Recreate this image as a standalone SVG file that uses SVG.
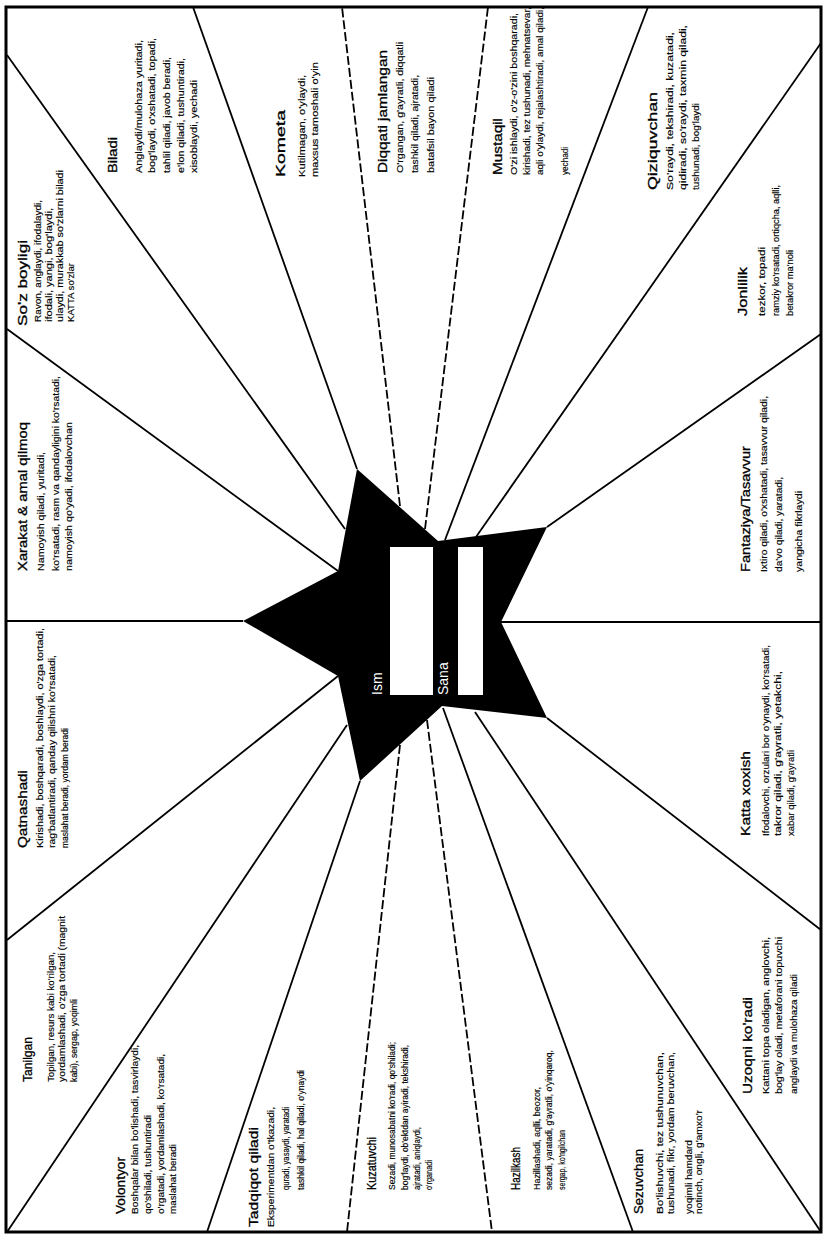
<svg xmlns="http://www.w3.org/2000/svg" width="824" height="1236" viewBox="0 0 824 1236">
<style>
text{font-family:"Liberation Sans",Arial,sans-serif;fill:#000}
.t{font-size:13.5px;stroke:#000;stroke-width:0.3}
.d{font-size:8.5px;stroke:#000;stroke-width:0.15}
.w{font-size:14px;fill:#fff}
.ln{stroke:#000;stroke-width:1.8;fill:none}
.ds{stroke:#000;stroke-width:1.8;fill:none;stroke-dasharray:9 3}
</style>
<rect x="0" y="0" width="824" height="1236" fill="#fff"/>
<rect x="6" y="7" width="815" height="1225" fill="none" stroke="#000" stroke-width="3"/>
<g id="connectors">
<path class="ln" d="M357,469 L193,7"/>
<path class="ds" d="M400,506 L342,7"/>
<path class="ds" d="M425,529 L488,7"/>
<path class="ln" d="M445,540 L648,7"/>
<path class="ln" d="M476,537 L821,43"/>
<path class="ln" d="M547,527 L821,334"/>
<path class="ln" d="M501,622 L821,622"/>
<path class="ln" d="M547,718 L821,930"/>
<path class="ln" d="M475,712 L821,1232"/>
<path class="ln" d="M443,708 L633,1232"/>
<path class="ds" d="M427,720 L492,1232"/>
<path class="ds" d="M400,745 L347,1232"/>
<path class="ln" d="M360,781 L207,1232"/>
<path class="ln" d="M347,725 L7,1232"/>
<path class="ln" d="M338,676 L7,940"/>
<path class="ln" d="M243,621 L7,621"/>
<path class="ln" d="M338,571 L7,329"/>
<path class="ln" d="M345,529 L7,55"/>
</g>
<g id="star">
<polygon points="357,469 438,541 547,527 501,622 547,718 442,706 360,781 338,676 243,621 338,571" fill="#000"/>
<rect x="390" y="547" width="43" height="148" fill="#fff"/>
<rect x="458" y="547" width="25" height="148" fill="#fff"/>
<text class="w" transform="translate(382,695) rotate(-90)">Ism</text>
<text class="w" transform="translate(448,695) rotate(-90)">Sana</text>
</g>
<g id="biladi" transform="translate(117,173) rotate(-90)">
<text class="t" textLength="36" lengthAdjust="spacingAndGlyphs">Biladi</text>
<text class="d" y="25" textLength="133" lengthAdjust="spacingAndGlyphs">Anglaydi/mulohaza yuritadi,</text>
<text class="d" y="38" textLength="135" lengthAdjust="spacingAndGlyphs">bog'laydi, o'xshatadi, topadi,</text>
<text class="d" y="53" textLength="116" lengthAdjust="spacingAndGlyphs">tahlil qiladi, javob beradi,</text>
<text class="d" y="67" textLength="115" lengthAdjust="spacingAndGlyphs">e'lon qiladi, tushuntiradi,</text>
<text class="d" y="80" textLength="93" lengthAdjust="spacingAndGlyphs">xisoblaydi, yechadi</text>
</g>
<g id="sozboyligi" transform="translate(27,326) rotate(-90)">
<text class="t" textLength="86" lengthAdjust="spacingAndGlyphs">So'z boyligi</text>
<text class="d" x="4" y="14" textLength="122" lengthAdjust="spacingAndGlyphs">Ravon, anglaydi, ifodalaydi,</text>
<text class="d" x="4" y="25" textLength="114" lengthAdjust="spacingAndGlyphs">ifodali, yangi, bog'laydi,</text>
<text class="d" x="4" y="36" textLength="152" lengthAdjust="spacingAndGlyphs">ulaydi, murakkab so'zlarni biladi</text>
<text class="d" x="4" y="47" textLength="59" lengthAdjust="spacingAndGlyphs">KATTA so'zlar</text>
</g>
<g id="xarakat" transform="translate(27,571) rotate(-90)">
<text class="t" textLength="149" lengthAdjust="spacingAndGlyphs">Xarakat &amp; amal qilmoq</text>
<text class="d" y="17" textLength="119" lengthAdjust="spacingAndGlyphs">Namoyish qiladi, yuritadi,</text>
<text class="d" y="32" textLength="195" lengthAdjust="spacingAndGlyphs">ko'rsatadi, rasm va qandayligini ko'rsatadi,</text>
<text class="d" y="45" textLength="149" lengthAdjust="spacingAndGlyphs">namoyish qo'yadi, ifodalovchan</text>
</g>
<g id="qatnashadi" transform="translate(27,848) rotate(-90)">
<text class="t" textLength="78" lengthAdjust="spacingAndGlyphs">Qatnashadi</text>
<text class="d" y="16" textLength="220" lengthAdjust="spacingAndGlyphs">Kirishadi, boshqaradi, boshlaydi, o'zga tortadi,</text>
<text class="d" y="28" textLength="193" lengthAdjust="spacingAndGlyphs">rag'batlantiradi, qanday qilishni ko'rsatadi,</text>
<text class="d" y="41" textLength="120" lengthAdjust="spacingAndGlyphs">maslahat beradi, yordam beradi</text>
</g>
<g id="tanilgan" transform="translate(32,1082) rotate(-90)">
<text class="t" textLength="45" lengthAdjust="spacingAndGlyphs">Tanilgan</text>
<text class="d" y="22" textLength="130" lengthAdjust="spacingAndGlyphs">Topilgan, resurs kabi ko'rilgan,</text>
<text class="d" y="33" textLength="166" lengthAdjust="spacingAndGlyphs">yordamlashadi, o'zga tortadi (magnit</text>
<text class="d" y="45" textLength="83" lengthAdjust="spacingAndGlyphs">kabi), sergap, yoqimli</text>
</g>
<g id="volontyor" transform="translate(125,1214) rotate(-90)">
<text class="t" textLength="57" lengthAdjust="spacingAndGlyphs">Volontyor</text>
<text class="d" y="13" textLength="169" lengthAdjust="spacingAndGlyphs">Boshqalar bilan bo'lishadi, tasvirlaydi,</text>
<text class="d" y="26" textLength="99" lengthAdjust="spacingAndGlyphs">qo'shiladi, tushuntiradi</text>
<text class="d" y="39" textLength="160" lengthAdjust="spacingAndGlyphs">o'rgatadi, yordamlashadi, ko'rsatadi,</text>
<text class="d" y="51" textLength="70" lengthAdjust="spacingAndGlyphs">maslahat beradi</text>
</g>
<g id="tadqiqot" transform="translate(258,1227) rotate(-90)">
<text class="t" textLength="100" lengthAdjust="spacingAndGlyphs">Tadqiqot qiladi</text>
<text class="d" y="16" textLength="120" lengthAdjust="spacingAndGlyphs">Eksperimentdan o'tkazadi,</text>
<text class="d" x="37" y="31" textLength="83" lengthAdjust="spacingAndGlyphs">quradi, yasaydi, yaratadi</text>
<text class="d" x="37" y="46" textLength="120" lengthAdjust="spacingAndGlyphs">tashkil qiladi, hal qiladi, o'ynaydi</text>
</g>
<g id="kuzatuvchi" transform="translate(376,1190) rotate(-90)">
<text class="t" textLength="53" lengthAdjust="spacingAndGlyphs">Kuzatuvchi</text>
<text class="d" y="19" textLength="148" lengthAdjust="spacingAndGlyphs">Sezadi, munosabatni ko'radi, qo'shiladi;</text>
<text class="d" y="32" textLength="145" lengthAdjust="spacingAndGlyphs">bog'laydi, ob'ektdan ayiradi, tekshiradi,</text>
<text class="d" y="44" textLength="63" lengthAdjust="spacingAndGlyphs">ajratadi, aniqlaydi,</text>
<text class="d" y="56" textLength="30" lengthAdjust="spacingAndGlyphs">o'rganadi</text>
</g>
<g id="hazilkash" transform="translate(520,1190) rotate(-90)">
<text class="t" textLength="43" lengthAdjust="spacingAndGlyphs">Hazilkash</text>
<text class="d" y="20" textLength="103" lengthAdjust="spacingAndGlyphs">Hazillashadi, aqlli, beozor,</text>
<text class="d" y="32" textLength="140" lengthAdjust="spacingAndGlyphs">sezadi, yaratadi, g'ayratli, o'yinqaroq,</text>
<text class="d" y="45" textLength="60" lengthAdjust="spacingAndGlyphs">sergap, ko'ngilchan</text>
</g>
<g id="sezuvchan" transform="translate(643,1214) rotate(-90)">
<text class="t" textLength="65" lengthAdjust="spacingAndGlyphs">Sezuvchan</text>
<text class="d" y="20" textLength="162" lengthAdjust="spacingAndGlyphs">Bo'lishuvchi, tez tushunuvchan,</text>
<text class="d" y="31" textLength="162" lengthAdjust="spacingAndGlyphs">tushunadi, fikr, yordam beruvchan,</text>
<text class="d" y="49" textLength="74" lengthAdjust="spacingAndGlyphs">yoqimli hamdard</text>
<text class="d" y="59" textLength="104" lengthAdjust="spacingAndGlyphs">notinch, ongli, g'amxo'r</text>
</g>
<g id="uzoqni" transform="translate(752,1094) rotate(-90)">
<text class="t" textLength="97" lengthAdjust="spacingAndGlyphs">Uzoqni ko'radi</text>
<text class="d" y="17" textLength="157" lengthAdjust="spacingAndGlyphs">Kattani topa oladigan, anglovchi,</text>
<text class="d" y="30" textLength="157" lengthAdjust="spacingAndGlyphs">bog'lay oladi, metaforani topuvchi</text>
<text class="d" y="45" textLength="120" lengthAdjust="spacingAndGlyphs">anglaydi va mulohaza qiladi</text>
</g>
<g id="kattaxoxish" transform="translate(750,836) rotate(-90)">
<text class="t" textLength="85" lengthAdjust="spacingAndGlyphs">Katta xoxish</text>
<text class="d" y="19" textLength="191" lengthAdjust="spacingAndGlyphs">Ifodalovchi, orzulari bor o'ynaydi, ko'rsatadi,</text>
<text class="d" y="31" textLength="165" lengthAdjust="spacingAndGlyphs">takror qiladi, g'ayratli, yetakchi,</text>
<text class="d" y="44" textLength="86" lengthAdjust="spacingAndGlyphs">xabar qiladi, g'ayratli</text>
</g>
<g id="fantaziya" transform="translate(750,572) rotate(-90)">
<text class="t" textLength="126" lengthAdjust="spacingAndGlyphs">Fantaziya/Tasavvur</text>
<text class="d" y="17" textLength="176" lengthAdjust="spacingAndGlyphs">Ixtiro qiladi, o'xshatadi, tasavvur qiladi,</text>
<text class="d" y="32" textLength="95" lengthAdjust="spacingAndGlyphs">da'vo qiladi, yaratadi,</text>
<text class="d" y="52" textLength="81" lengthAdjust="spacingAndGlyphs">yangicha fikrlaydi</text>
</g>
<g id="jonlilik" transform="translate(747,316) rotate(-90)">
<text class="t" textLength="49" lengthAdjust="spacingAndGlyphs">Jonlilik</text>
<text class="d" y="18" textLength="69" lengthAdjust="spacingAndGlyphs">tezkor, topadi</text>
<text class="d" y="32" textLength="131" lengthAdjust="spacingAndGlyphs">ramziy ko'rsatadi, ortiqcha, aqlli,</text>
<text class="d" y="46" textLength="66" lengthAdjust="spacingAndGlyphs">betakror ma'noli</text>
</g>
<g id="qiziquvchan" transform="translate(657,190) rotate(-90)">
<text class="t" textLength="98" lengthAdjust="spacingAndGlyphs">Qiziquvchan</text>
<text class="d" y="16" textLength="158" lengthAdjust="spacingAndGlyphs">So'raydi, tekshiradi, kuzatadi,</text>
<text class="d" y="29" textLength="165" lengthAdjust="spacingAndGlyphs">qidiradi, so'raydi, taxmin qiladi,</text>
<text class="d" y="42" textLength="87" lengthAdjust="spacingAndGlyphs">tushunadi, bog'laydi</text>
</g>
<g id="mustaqil" transform="translate(502,175) rotate(-90)">
<text class="t" textLength="57" lengthAdjust="spacingAndGlyphs">Mustaqil</text>
<text class="d" y="15" textLength="162" lengthAdjust="spacingAndGlyphs">O'zi ishlaydi, o'z-o'zini boshqaradi,</text>
<text class="d" y="28" textLength="168" lengthAdjust="spacingAndGlyphs">kirishadi, tez tushunadi, mehnatsevar,</text>
<text class="d" y="41" textLength="168" lengthAdjust="spacingAndGlyphs">aqli o'ylaydi, rejalashtiradi, amal qiladi,</text>
<text class="d" y="66" textLength="28" lengthAdjust="spacingAndGlyphs">yechadi</text>
</g>
<g id="diqqati" transform="translate(387,173) rotate(-90)">
<text class="t" textLength="123" lengthAdjust="spacingAndGlyphs">Diqqati jamlangan</text>
<text class="d" y="16" textLength="131" lengthAdjust="spacingAndGlyphs">O'rgangan, g'ayratli, diqqatli</text>
<text class="d" y="31" textLength="98" lengthAdjust="spacingAndGlyphs">tashkil qiladi, ajratadi,</text>
<text class="d" y="47" textLength="96" lengthAdjust="spacingAndGlyphs">batafsil bayon qiladi</text>
</g>
<g id="kometa" transform="translate(285,177) rotate(-90)">
<text class="t" textLength="67" lengthAdjust="spacingAndGlyphs">Kometa</text>
<text class="d" y="20" textLength="102" lengthAdjust="spacingAndGlyphs">Kutilmagan, o'ylaydi,</text>
<text class="d" y="33" textLength="115" lengthAdjust="spacingAndGlyphs">maxsus tamoshali o'yin</text>
</g>
</svg>
